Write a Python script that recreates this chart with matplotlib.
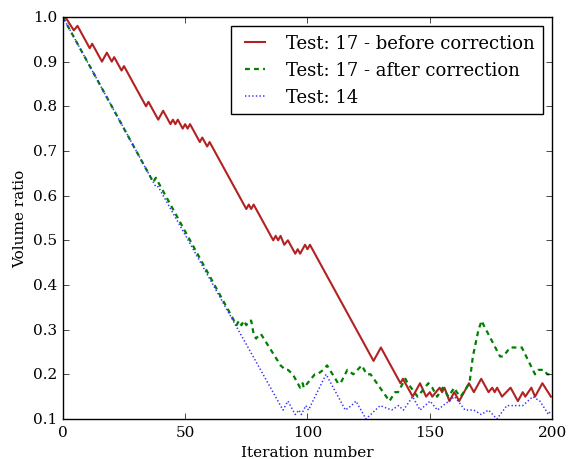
import numpy as np
import matplotlib
matplotlib.use('Agg')
import matplotlib.pyplot as plt

# Вершины ломаных (итерация, доля объёма)
before_x = [0, 1, 4.5, 6, 11, 12, 16, 18, 20, 21, 24, 25, 34, 35, 39, 41, 44, 45, 46, 47, 49, 50,
            51, 52, 56, 57, 59, 60, 75, 76, 77, 78, 86, 87, 88, 89, 90.5, 92, 95, 96, 97, 99,
            100, 101, 127, 130, 138, 139, 143, 146, 148.5, 150, 151, 154, 155, 156, 158, 160,
            162, 166, 168, 171, 174, 175.5, 176.5, 177.5, 179.5, 183, 186, 188, 189, 191.5,
            193, 196, 199.5]
before_y = [1.0, 1.0, 0.97, 0.98, 0.93, 0.94, 0.90, 0.92, 0.90, 0.91, 0.88, 0.89, 0.80, 0.81,
            0.77, 0.79, 0.76, 0.77, 0.76, 0.77, 0.75, 0.76, 0.75, 0.76, 0.72, 0.73, 0.71, 0.72,
            0.57, 0.58, 0.57, 0.58, 0.50, 0.51, 0.50, 0.51, 0.49, 0.50, 0.47, 0.48, 0.47, 0.49,
            0.48, 0.49, 0.23, 0.26, 0.18, 0.19, 0.15, 0.18, 0.15, 0.16, 0.15, 0.17, 0.16, 0.17,
            0.14, 0.16, 0.14, 0.18, 0.16, 0.19, 0.16, 0.17, 0.16, 0.17, 0.15, 0.17, 0.14, 0.16,
            0.15, 0.17, 0.15, 0.18, 0.15]

after_x = [0, 37, 38, 71, 72, 73, 74, 75, 76, 77, 78, 79, 80.5, 81, 89, 91, 92, 94, 97, 98,
           98.5, 103, 104, 106.5, 108, 112.5, 113.5, 116.3, 118.7, 122.2, 124.2, 125.8, 133.5,
           135.8, 137, 140, 141, 145, 149.4, 151, 153, 155.3, 157.6, 160, 161, 162.6, 166.2,
           167.6, 169.9, 171.2, 172, 178.7, 180, 182.8, 187.6, 193, 194.5, 196.7, 198, 199.5]
after_y = [1.0, 0.63, 0.64, 0.31, 0.32, 0.31, 0.32, 0.31, 0.32, 0.32, 0.29, 0.28, 0.29, 0.29,
           0.22, 0.21, 0.21, 0.20, 0.17, 0.18, 0.17, 0.20, 0.20, 0.21, 0.22, 0.18, 0.18, 0.21,
           0.20, 0.22, 0.20, 0.20, 0.14, 0.16, 0.16, 0.19, 0.18, 0.15, 0.18, 0.17, 0.15, 0.17,
           0.15, 0.17, 0.16, 0.15, 0.18, 0.24, 0.30, 0.32, 0.31, 0.24, 0.24, 0.26, 0.26, 0.20,
           0.21, 0.21, 0.20, 0.20]

test14_x = [0, 38, 39, 90, 92, 95, 96.5, 97.5, 99.3, 100.4, 107.6, 115.5, 118, 119.8, 123.9,
            129.7, 134.4, 137.2, 139.2, 143, 146, 150.1, 153.1, 160.1, 164.4, 168, 171, 174,
            177.4, 181.5, 188, 192.1, 195, 198.5, 199.5]
test14_y = [1.0, 0.62, 0.62, 0.12, 0.14, 0.11, 0.12, 0.11, 0.13, 0.12, 0.20, 0.12, 0.13, 0.14,
            0.10, 0.13, 0.12, 0.13, 0.12, 0.15, 0.12, 0.14, 0.12, 0.15, 0.12, 0.12, 0.11, 0.12,
            0.10, 0.13, 0.13, 0.15, 0.14, 0.11, 0.12]

labels = ['Test: 17 - before correction', 'Test: 17 - after correction', 'Test: 14']


def plot_volume():
    plt.style.use('classic')
    plt.rcParams['font.family'] = ['DejaVu Serif']
    plt.rcParams['figure.facecolor'] = 'white'
    plt.rcParams['savefig.facecolor'] = 'white'

    fig = plt.figure(figsize=(5.71, 4.6), dpi=100)
    ax = fig.add_axes([0.110, 0.087, 0.857, 0.874])

    ax.plot(before_x, before_y, '-', color='#b22222', lw=1.5, label=labels[0])
    ax.plot(after_x, after_y, '--', color='green', lw=1.6, dashes=(3.5, 3),
            label=labels[1])
    ax.plot(test14_x, test14_y, ':', color='#3333ff', lw=1.1, dashes=(1, 1.6),
            label=labels[2])

    ax.set_xlim(0, 200)
    ax.set_ylim(0.1, 1.0)
    ax.set_xticks(np.arange(0, 201, 50))
    ax.set_yticks(np.arange(0.1, 1.01, 0.1))
    ax.tick_params(labelsize=11)
    ax.set_xlabel('Iteration number', fontsize=11, labelpad=5)
    ax.set_ylabel('Volume ratio', fontsize=11, labelpad=4)

    ax.legend(loc='upper right', fontsize=13, handlelength=1.7,
              handletextpad=0.9, borderpad=0.45, labelspacing=0.5,
              borderaxespad=0.5)

    fig.savefig('out.png', dpi=100)


if __name__ == "__main__":
    plot_volume()
